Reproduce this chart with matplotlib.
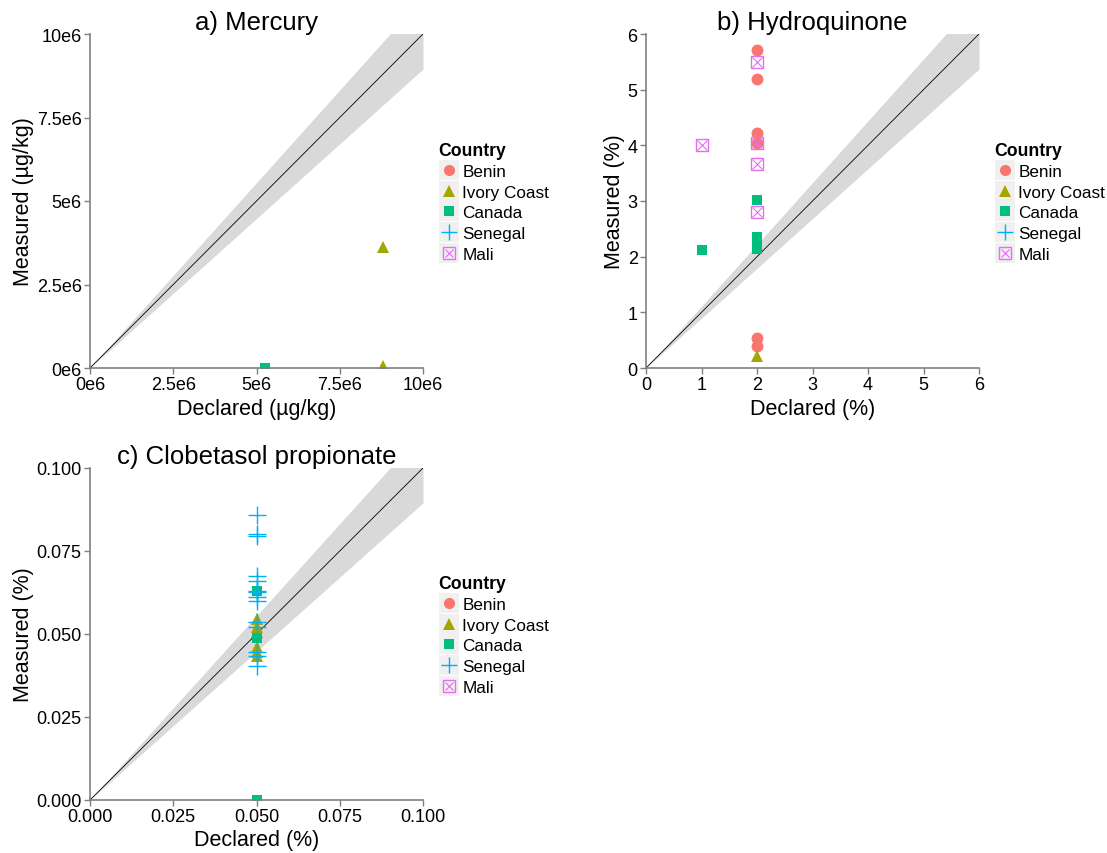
import matplotlib
matplotlib.use("Agg")
import matplotlib.pyplot as plt
from matplotlib.lines import Line2D
import numpy as np

plt.rcParams['font.family'] = ['Liberation Sans', 'DejaVu Sans']

countries = ["Benin", "Ivory Coast", "Canada", "Senegal", "Mali"]
colors = {"Benin": "#F8766D", "Ivory Coast": "#A3A500", "Canada": "#00BF7D",
          "Senegal": "#00B0F6", "Mali": "#E76BF3"}

# a) Mercury (µg/kg)
hg_declared = {"Ivory Coast": [8.8e6, 8.8e6], "Canada": [5.25e6]}
hg_measured = {"Ivory Coast": [3.62e6, 0.05e6], "Canada": [0.0]}
hg_ticks = [0, 2.5e6, 5e6, 7.5e6, 10e6]
hg_ticklabels = ["0e6", "2.5e6", "5e6", "7.5e6", "10e6"]

# b) Hydroquinone (%)
hq_declared = {"Benin": [2, 2, 2, 2, 2, 2],
               "Ivory Coast": [2],
               "Canada": [2, 2, 2, 2, 2, 1],
               "Mali": [2, 2, 2, 2, 1]}
hq_measured = {"Benin": [5.72, 5.19, 4.23, 4.04, 0.53, 0.40],
               "Ivory Coast": [0.22],
               "Canada": [3.01, 2.35, 2.28, 2.20, 2.13, 2.12],
               "Mali": [5.49, 4.05, 3.66, 2.81, 4.0]}
hq_ticks = [0, 1, 2, 3, 4, 5, 6]

# c) Clobetasol propionate (%)
cp_declared = {"Ivory Coast": [0.05] * 6,
               "Canada": [0.05, 0.05, 0.05],
               "Senegal": [0.05] * 14}
cp_measured = {"Ivory Coast": [0.0545, 0.052, 0.0505, 0.046, 0.0445, 0.0435],
               "Canada": [0.063, 0.0488, 0.0],
               "Senegal": [0.0858, 0.0801, 0.0794, 0.0676, 0.066, 0.063, 0.0626,
                           0.061, 0.0598, 0.0537, 0.052, 0.0445, 0.0435, 0.0404]}
cp_ticks = [0.0, 0.025, 0.05, 0.075, 0.1]
cp_ticklabels = ["0.000", "0.025", "0.050", "0.075", "0.100"]

band_lo, band_hi = 0.895, 1.11

fig = plt.figure(figsize=(11.07, 8.54), dpi=100)
W, H = 1107, 854

def make_ax(x0, x1, ytop, ybot):
    return fig.add_axes([x0 / W, (H - ybot) / H, (x1 - x0) / W, (ybot - ytop) / H])

ax_a = make_ax(90, 423, 35, 369)
ax_b = make_ax(646, 979, 35, 369)
ax_c = make_ax(90, 423, 469, 801)

MS = 9

def plot_country(ax, c, xs, ys):
    col = colors[c]
    if c == "Benin":
        ax.plot(xs, ys, 'o', color=col, ms=MS * 0.95, mew=0, ls='none')
    elif c == "Ivory Coast":
        ax.plot(xs, ys, '^', color=col, ms=MS * 1.0, mew=0, ls='none')
    elif c == "Canada":
        ax.plot(xs, ys, 's', color=col, ms=MS * 0.8, mew=0, ls='none')
    elif c == "Senegal":
        ax.plot(xs, ys, '+', color=col, ms=MS * 1.4, mew=1.0, ls='none')
    elif c == "Mali":
        ax.plot(xs, ys, 's', mfc='none', mec=col, ms=MS * 0.95, mew=1.0, ls='none')
        ax.plot(xs, ys, 'x', color=col, ms=MS * 0.75, mew=0.8, ls='none')

def setup(ax, lim, ticks, ticklabels, title, xlabel, ylabel, dec, meas):
    xx = np.linspace(0, lim, 200)
    ax.fill_between(xx, xx * band_lo, xx * band_hi, color='#d9d9d9', lw=0, zorder=1)
    ax.plot([0, lim], [0, lim], color='black', lw=0.6, zorder=2)
    for c in countries:
        if c in dec:
            plot_country(ax, c, dec[c], meas[c])
    ax.set_xlim(0, lim)
    ax.set_ylim(0, lim)
    ax.set_xticks(ticks)
    ax.set_yticks(ticks)
    ax.set_xticklabels(ticklabels)
    ax.set_yticklabels(ticklabels)
    for s in ['top', 'right']:
        ax.spines[s].set_visible(False)
    for s in ['left', 'bottom']:
        ax.spines[s].set_color('#7f7f7f')
        ax.spines[s].set_linewidth(1.2)
    ax.tick_params(colors='#7f7f7f', labelcolor='black', labelsize=13, length=4, width=1, pad=2)
    ax.set_title(title, fontsize=18.5, pad=3)
    ax.set_xlabel(xlabel, fontsize=15.5, labelpad=3)
    ax.set_ylabel(ylabel, fontsize=15.5, labelpad=2)

setup(ax_a, 10e6, hg_ticks, hg_ticklabels, "a) Mercury", "Declared (µg/kg)", "Measured (µg/kg)",
      hg_declared, hg_measured)
setup(ax_b, 6, hq_ticks, [str(t) for t in hq_ticks], "b) Hydroquinone", "Declared (%)", "Measured (%)",
      hq_declared, hq_measured)
setup(ax_c, 0.1, cp_ticks, cp_ticklabels, "c) Clobetasol propionate", "Declared (%)", "Measured (%)",
      cp_declared, cp_measured)

def key_bg():
    return Line2D([], [], marker='s', color='#f0f0f0', ms=14.5, mew=0, ls='none')

def legend_handles():
    hs = [
        (key_bg(), Line2D([], [], marker='o', color=colors["Benin"], ms=8, mew=0, ls='none')),
        (key_bg(), Line2D([], [], marker='^', color=colors["Ivory Coast"], ms=8, mew=0, ls='none')),
        (key_bg(), Line2D([], [], marker='s', color=colors["Canada"], ms=7, mew=0, ls='none')),
        (key_bg(), Line2D([], [], marker='+', color=colors["Senegal"], ms=12, mew=1.0, ls='none')),
        (key_bg(), Line2D([], [], marker='s', mfc='none', mec=colors["Mali"], ms=8, mew=1.0, ls='none'),
         Line2D([], [], marker='x', color=colors["Mali"], ms=6, mew=0.8, ls='none')),
    ]
    return hs

def add_legend(x, ytop):
    leg = fig.legend(legend_handles(), countries, loc='upper left',
                     bbox_to_anchor=(x / W, (H - ytop) / H), frameon=False,
                     title="Country", fontsize=12.3,
                     title_fontproperties={'weight': 'bold', 'size': 12.7},
                     handlelength=1.2, handletextpad=0.2, labelspacing=0.33, borderpad=0,
                     alignment='left')
    return leg

add_legend(430, 134)
add_legend(986, 134)
add_legend(430, 567)

fig.savefig("out.png", dpi=100)
